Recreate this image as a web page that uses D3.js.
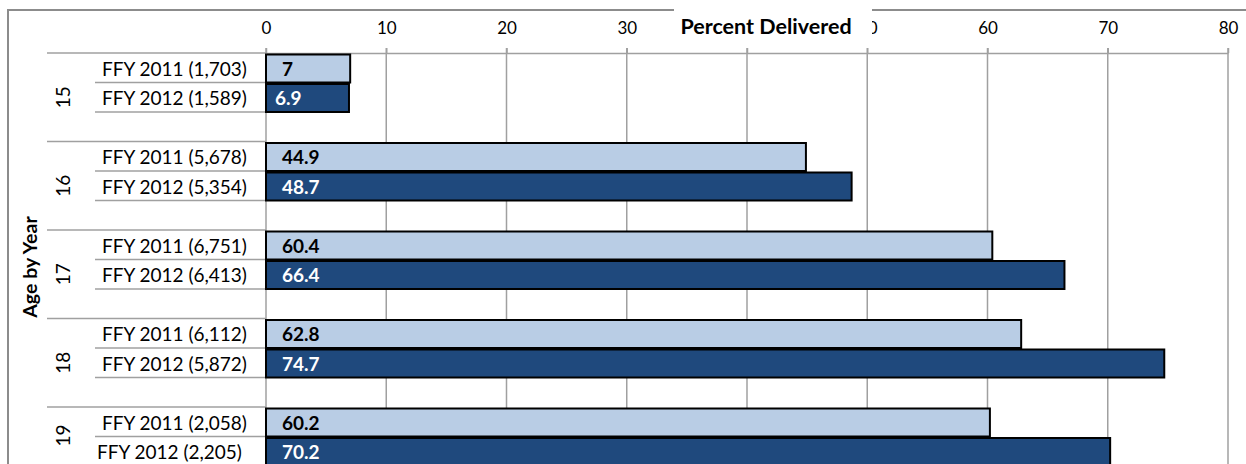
<!DOCTYPE html>
<html>
<head>
<meta charset="utf-8">
<script src="https://cdn.jsdelivr.net/npm/d3@7"></script>
<style>
  body { margin: 0; background: #fff; }
  svg { display: block; font-family: Lato, "Open Sans", sans-serif; }
</style>
</head>
<body>
<div id="chart"></div>
<script>
// data
var ages = ['15', '16', '17', '18', '19'];
var ffy2011 = [7, 44.9, 60.4, 62.8, 60.2];
var ffy2012 = [6.9, 48.7, 66.4, 74.7, 70.2];
var n2011 = ['1,703', '5,678', '6,751', '6,112', '2,058'];
var n2012 = ['1,589', '5,354', '6,413', '5,872', '2,205'];
var xTicks = [0, 10, 20, 30, 40, 50, 60, 70, 80];

var width = 1246,
    height = 464;

var plot = {left: 266, right: 1228, top: 53};
var grey = '#a0a0a0';

var svg = d3.select('#chart')
  .append('svg')
  .attr('width', width)
  .attr('height', height);

var x = d3.scaleLinear()
  .domain([0, 80])
  .range([plot.left, plot.right]);

// each age group takes 3 slots: 2011, 2012, empty
var group = d3.scaleBand()
  .domain(ages)
  .range([plot.top, plot.top + 5 * 88.5]);

var slot = d3.scaleBand()
  .domain(['2011', '2012', 'gap'])
  .range([0, group.bandwidth()]);

// outer chart border (left + top)
svg.append('path')
  .attr('d', 'M8,' + height + 'V10H' + width)
  .attr('fill', 'none')
  .attr('stroke', '#8c8c8c')
  .attr('stroke-width', 2);

// vertical gridlines
svg.append('g')
  .selectAll('line')
  .data(xTicks)
  .enter()
  .append('line')
  .attr('x1', function(d) { return x(d); })
  .attr('x2', function(d) { return x(d); })
  .attr('y1', plot.top - 5)
  .attr('y2', height)
  .attr('stroke', grey)
  .attr('stroke-width', 1.5);

// top axis
var axis = svg.append('g')
  .attr('transform', 'translate(0,' + plot.top + ')')
  .call(d3.axisTop(x).tickValues(xTicks).tickSize(5).tickPadding(14).tickSizeOuter(0));

axis.select('.domain').attr('stroke', grey).attr('stroke-width', 1.5);
axis.selectAll('.tick line').attr('stroke', grey).attr('stroke-width', 1.5);
axis.selectAll('.tick text')
  .attr('font-family', 'Lato, sans-serif')
  .attr('font-size', 17)
  .attr('fill', '#000');

// rows: one per bar
var rows = [];
ages.forEach(function(a, i) {
  rows.push({age: a, year: '2011', value: ffy2011[i], n: n2011[i]});
  rows.push({age: a, year: '2012', value: ffy2012[i], n: n2012[i]});
});

var rowY = function(d) { return group(d.age) + slot(d.year); };

// category separator lines
var lines = svg.append('g')
  .attr('stroke', grey)
  .attr('stroke-width', 1.5);

lines.selectAll('line.grp')
  .data(ages)
  .enter()
  .append('line')
  .attr('class', 'grp')
  .attr('x1', 47)
  .attr('x2', plot.left)
  .attr('y1', function(d) { return group(d); })
  .attr('y2', function(d) { return group(d); });

lines.selectAll('line.sub')
  .data(rows)
  .enter()
  .append('line')
  .attr('class', 'sub')
  .attr('x1', 95)
  .attr('x2', plot.left)
  .attr('y1', function(d) { return rowY(d) + slot.bandwidth(); })
  .attr('y2', function(d) { return rowY(d) + slot.bandwidth(); });

// bars
var color = {'2011': '#b9cde5', '2012': '#1f497d'};

svg.append('g')
  .selectAll('rect')
  .data(rows)
  .enter()
  .append('rect')
  .attr('x', x(0))
  .attr('y', function(d) { return rowY(d) + 1.5; })
  .attr('width', function(d) { return x(d.value) - x(0); })
  .attr('height', slot.bandwidth() - 1.5)
  .attr('fill', function(d) { return color[d.year]; })
  .attr('stroke', '#000')
  .attr('stroke-width', 2);

// value labels
svg.append('g')
  .selectAll('text')
  .data(rows)
  .enter()
  .append('text')
  .attr('x', function(d) { return x(0) + (d.value < 10 && d.year == '2012' ? 9 : 16); })
  .attr('y', function(d) { return rowY(d) + slot.bandwidth() / 2 + 8; })
  .attr('font-size', 19)
  .attr('font-weight', 'bold')
  .attr('fill', function(d) { return d.year == '2011' ? '#000' : '#fff'; })
  .text(function(d) { return d.value; });

// sub category labels
svg.append('g')
  .selectAll('text')
  .data(rows)
  .enter()
  .append('text')
  .attr('x', function(d, i) { return i == rows.length - 1 ? 97 : 102; })
  .attr('y', function(d) { return rowY(d) + slot.bandwidth() / 2 + 8; })
  .attr('font-size', 19)
  .attr('fill', '#000')
  .text(function(d) { return 'FFY ' + d.year + ' (' + d.n + ')'; });

// age labels, centred on the visible part of each group
svg.append('g')
  .selectAll('text')
  .data(ages)
  .enter()
  .append('text')
  .attr('transform', function(d) {
    var top = group(d),
        bottom = Math.min(group(d) + group.bandwidth(), height);
    return 'translate(63,' + (top + bottom) / 2 + ') rotate(-90)';
  })
  .attr('text-anchor', 'middle')
  .attr('dy', '0.35em')
  .attr('font-size', 19)
  .attr('fill', '#000')
  .text(function(d) { return d; });

// axis titles
svg.append('text')
  .attr('transform', 'translate(30,267) rotate(-90)')
  .attr('text-anchor', 'middle')
  .attr('dy', '0.35em')
  .attr('font-size', 19.5)
  .attr('font-weight', 'bold')
  .text('Age by Year');

svg.append('rect')
  .attr('x', 674)
  .attr('y', 9)
  .attr('width', 198)
  .attr('height', 32)
  .attr('fill', '#fff');

svg.append('text')
  .attr('x', 766)
  .attr('y', 26)
  .attr('text-anchor', 'middle')
  .attr('dy', '0.35em')
  .attr('font-size', 21.5)
  .attr('font-weight', 'bold')
  .text('Percent Delivered');
</script>
</body>
</html>
